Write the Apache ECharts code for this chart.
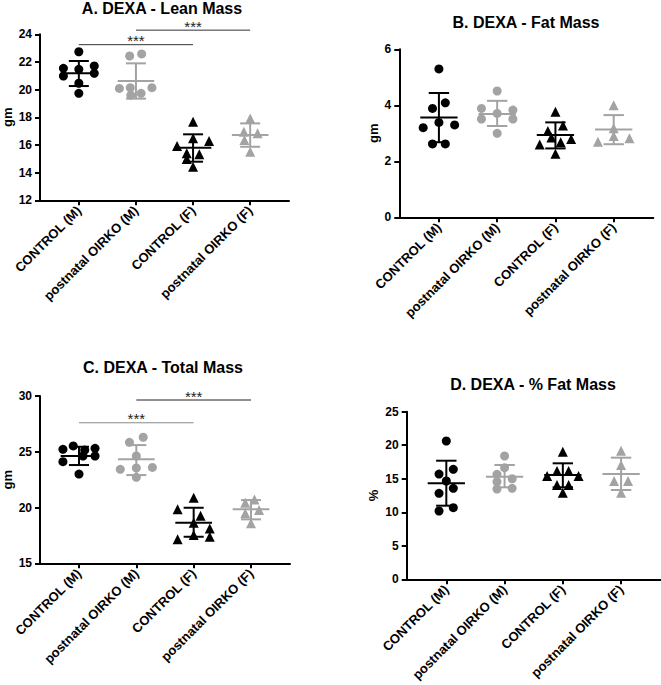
<!DOCTYPE html>
<html>
<head>
<meta charset="utf-8">
<script src="https://cdn.jsdelivr.net/npm/echarts@6/dist/echarts.min.js"></script>
<style>
  html, body { margin: 0; padding: 0; background: #fff; }
  #chart { width: 661px; height: 685px; }
</style>
</head>
<body>
<div id="chart"></div>
<script>
// ---------- data ----------
const categories = ['CONTROL (M)', 'postnatal OIRKO (M)', 'CONTROL (F)', 'postnatal OIRKO (F)'];

// A. Lean mass (gm) — per group values and horizontal spread (in category units)
const leanValues = [
  [22.74, 21.54, 21.47, 21.71, 20.98, 21.18, 20.46, 19.73],
  [22.43, 22.58, 20.09, 20.14, 20.14, 19.6, 19.73],
  [17.68, 16.48, 15.92, 16.28, 15.4, 15.32, 14.98, 14.43],
  [17.92, 16.96, 16.84, 16.36, 15.51]
];
const leanSpread = [
  [0, -0.27, 0, 0.27, -0.27, 0.27, 0, 0],
  [-0.11, 0.1, -0.29, -0.1, 0.28, -0.09, 0.09],
  [0, 0, -0.28, 0.28, -0.11, 0.11, -0.11, 0],
  [0, -0.11, 0.13, -0.1, 0]
];
const leanMean = [21.18, 20.62, 15.8, 16.72];
const leanSdHi = [22.07, 21.9, 16.77, 17.56];
const leanSdLo = [20.26, 19.35, 14.79, 15.87];

// B. Fat mass (gm)
const fatValues = [
  [5.3, 3.89, 4.09, 3.2, 3.39, 3.3, 2.62, 2.62],
  [4.51, 3.89, 3.71, 3.83, 3.51, 3.51, 3.0],
  [3.77, 3.08, 3.28, 2.6, 2.85, 2.68, 2.8, 2.27],
  [4.0, 3.18, 2.9, 2.7, 2.82]
];
const fatSpread = [
  [0, -0.11, 0.11, -0.27, 0, 0.27, -0.11, 0.11],
  [0, -0.27, 0, 0.27, -0.27, 0.27, 0],
  [0, -0.13, 0.13, -0.27, -0.07, 0.09, 0.27, 0],
  [0, 0, 0, -0.27, 0.27]
];
const fatMean = [3.56, 3.69, 2.94, 3.14];
const fatSdHi = [4.44, 4.16, 3.39, 3.65];
const fatSdLo = [2.68, 3.26, 2.46, 2.61];

// C. Total mass (gm)
const totalValues = [
  [25.22, 25.52, 25.16, 25.31, 24.11, 24.62, 24.62, 23.0],
  [25.85, 26.3, 24.62, 23.43, 23.55, 23.6, 22.71],
  [20.88, 19.84, 19.27, 18.64, 18.13, 17.53, 17.38, 17.15],
  [20.73, 20.43, 19.78, 19.48, 18.58]
];
const totalSpread = [
  [-0.28, -0.1, 0.1, 0.28, -0.28, 0.07, 0.28, 0],
  [-0.12, 0.12, 0, -0.28, 0, 0.28, 0],
  [0, -0.28, 0.12, 0, 0.28, 0, 0.28, -0.28],
  [0.06, -0.1, 0.14, -0.1, 0]
];
const totalMean = [24.62, 24.32, 18.64, 19.84];
const totalSdHi = [25.45, 25.6, 19.98, 20.67];
const totalSdLo = [23.81, 22.91, 17.38, 18.94];

// D. % fat mass
const pctValues = [
  [20.63, 15.7, 16.4, 14.66, 12.82, 13.57, 10.19, 10.69],
  [18.39, 16.65, 15.66, 15.0, 14.56, 13.47, 13.57],
  [19.04, 16.15, 16.15, 15.4, 15.4, 14.06, 14.06, 12.92],
  [19.18, 17.05, 14.66, 14.66, 12.92]
];
const pctSpread = [
  [0, -0.125, 0.12, 0, -0.125, 0.12, -0.125, 0.12],
  [0, 0, -0.13, 0.13, -0.13, -0.13, 0.13],
  [0, -0.1, 0.1, -0.27, 0.27, -0.1, 0.1, 0],
  [0, 0, -0.12, 0.12, 0]
];
const pctMean = [14.31, 15.31, 15.56, 15.71];
const pctSdHi = [17.69, 17.05, 17.3, 18.14];
const pctSdLo = [10.98, 13.72, 13.72, 13.32];

// significance brackets: [fromGroup, toGroup, height]
const leanBrackets = [[0, 2, 23.25], [1, 3, 24.3]];
const totalBrackets = [[0, 2, 27.6], [1, 3, 29.64]];

// ---------- style ----------
const FONT = 'Arial, "Liberation Sans", Helvetica, sans-serif';
const BLACK = '#000000';
const GRAY = '#a3a3a3';
const groupColor = [BLACK, GRAY, BLACK, GRAY];
const groupSymbol = ['circle', 'circle', 'triangle', 'triangle'];

const panels = [
  { title: 'A. DEXA - Lean Mass', titleX: 162, titleY: 0, name: 'gm', nameGap: 26,
    grid: { left: 36, top: 34.3, width: 253, height: 166 },
    min: 12, max: 24, interval: 2,
    values: leanValues, spread: leanSpread, mean: leanMean, hi: leanSdHi, lo: leanSdLo,
    brackets: leanBrackets, bracketColors: ['#333', '#333'] },
  { title: 'B. DEXA - Fat Mass', titleX: 526, titleY: 14, name: 'gm', nameGap: 19,
    grid: { left: 399.3, top: 49.3, width: 254, height: 168 },
    min: 0, max: 6, interval: 2,
    values: fatValues, spread: fatSpread, mean: fatMean, hi: fatSdHi, lo: fatSdLo,
    brackets: [], bracketColors: [] },
  { title: 'C. DEXA - Total Mass', titleX: 163, titleY: 359, name: 'gm', nameGap: 26,
    grid: { left: 36, top: 396, width: 254, height: 167.3 },
    min: 15, max: 30, interval: 5,
    values: totalValues, spread: totalSpread, mean: totalMean, hi: totalSdHi, lo: totalSdLo,
    brackets: totalBrackets, bracketColors: ['#8a8a8a', '#222'] },
  { title: 'D. DEXA - % Fat Mass', titleX: 533, titleY: 376, name: '%', nameGap: 27,
    grid: { left: 406.7, top: 411.7, width: 254, height: 167.6 },
    min: 0, max: 25, interval: 5,
    values: pctValues, spread: pctSpread, mean: pctMean, hi: pctSdHi, lo: pctSdLo,
    brackets: [], bracketColors: [] }
];

const option = {
  backgroundColor: '#fff',
  animation: false,
  textStyle: { fontFamily: FONT },
  title: [],
  grid: [],
  xAxis: [],
  yAxis: [],
  series: []
};

panels.forEach((p, k) => {
  option.title.push({
    text: p.title, left: p.titleX, top: p.titleY, textAlign: 'center', padding: 0,
    textStyle: { fontFamily: FONT, fontSize: 16, fontWeight: 'bold', color: '#000' }
  });
  option.grid.push(Object.assign({ containLabel: false }, p.grid));
  option.xAxis.push({
    type: 'value', gridIndex: k, min: -0.68, max: 3.68,
    splitLine: { show: false },
    axisLine: { show: true, onZero: false, lineStyle: { color: '#000', width: 2 } },
    axisTick: { show: true, customValues: [0, 1, 2, 3], length: 5, lineStyle: { color: '#000', width: 2 } },
    axisLabel: {
      customValues: [0, 1, 2, 3], rotate: 45, margin: 8,
      formatter: v => categories[Math.round(v)],
      fontFamily: FONT, fontSize: 13, fontWeight: 'bold', color: '#000'
    }
  });
  option.yAxis.push({
    type: 'value', gridIndex: k, min: p.min, max: p.max, interval: p.interval,
    name: p.name, nameLocation: 'middle', nameRotate: 90, nameGap: p.nameGap,
    nameTextStyle: { fontFamily: FONT, fontSize: 13, fontWeight: 'bold', color: '#000' },
    splitLine: { show: false },
    axisLine: { show: true, onZero: false, lineStyle: { color: '#000', width: 2 } },
    axisTick: { show: true, length: 5, lineStyle: { color: '#000', width: 2 } },
    axisLabel: { margin: 8, fontFamily: FONT, fontSize: 12, fontWeight: 'bold', color: '#000' }
  });

  // points
  p.values.forEach((vals, g) => {
    option.series.push({
      type: 'scatter', xAxisIndex: k, yAxisIndex: k, z: 2,
      symbol: groupSymbol[g], symbolSize: groupSymbol[g] === 'circle' ? 9 : 10,
      itemStyle: { color: groupColor[g], opacity: 1 },
      data: vals.map((v, i) => [g + p.spread[g][i], v])
    });
  });

  // mean ± SD
  option.series.push({
    type: 'custom', xAxisIndex: k, yAxisIndex: k, z: 3, clip: false,
    data: p.mean.map((m, g) => [g, m, p.hi[g], p.lo[g]]),
    renderItem: (params, api) => {
      const g = api.value(0);
      const m = api.coord([g, api.value(1)]);
      const hi = api.coord([g, api.value(2)]);
      const lo = api.coord([g, api.value(3)]);
      const wMean = api.size([0.32, 0])[0];
      const wSd = api.size([0.175, 0])[0];
      const style = { stroke: groupColor[g], lineWidth: 2 };
      return {
        type: 'group',
        children: [
          { type: 'line', shape: { x1: m[0], y1: hi[1], x2: m[0], y2: lo[1] }, style },
          { type: 'line', shape: { x1: m[0] - wMean, y1: m[1], x2: m[0] + wMean, y2: m[1] }, style },
          { type: 'line', shape: { x1: m[0] - wSd, y1: hi[1], x2: m[0] + wSd, y2: hi[1] }, style },
          { type: 'line', shape: { x1: m[0] - wSd, y1: lo[1], x2: m[0] + wSd, y2: lo[1] }, style }
        ]
      };
    }
  });

  // significance brackets
  if (p.brackets.length) {
    option.series.push({
      type: 'custom', xAxisIndex: k, yAxisIndex: k, z: 4, clip: false,
      data: p.brackets,
      renderItem: (params, api) => {
        const a = api.coord([api.value(0), api.value(2)]);
        const b = api.coord([api.value(1), api.value(2)]);
        return {
          type: 'group',
          children: [
            { type: 'line', shape: { x1: a[0], y1: a[1], x2: b[0], y2: b[1] },
              style: { stroke: p.bracketColors[params.dataIndex], lineWidth: 1 } },
            { type: 'text', x: (a[0] + b[0]) / 2, y: a[1] - 4,
              style: { text: '***', fontFamily: FONT, fontSize: 15, lineHeight: 10, fill: '#222',
                       align: 'center', verticalAlign: 'middle' } }
          ]
        };
      }
    });
  }
});

const chart = echarts.init(document.getElementById('chart'), null, { renderer: 'svg' });
chart.setOption(option);
</script>
</body>
</html>
